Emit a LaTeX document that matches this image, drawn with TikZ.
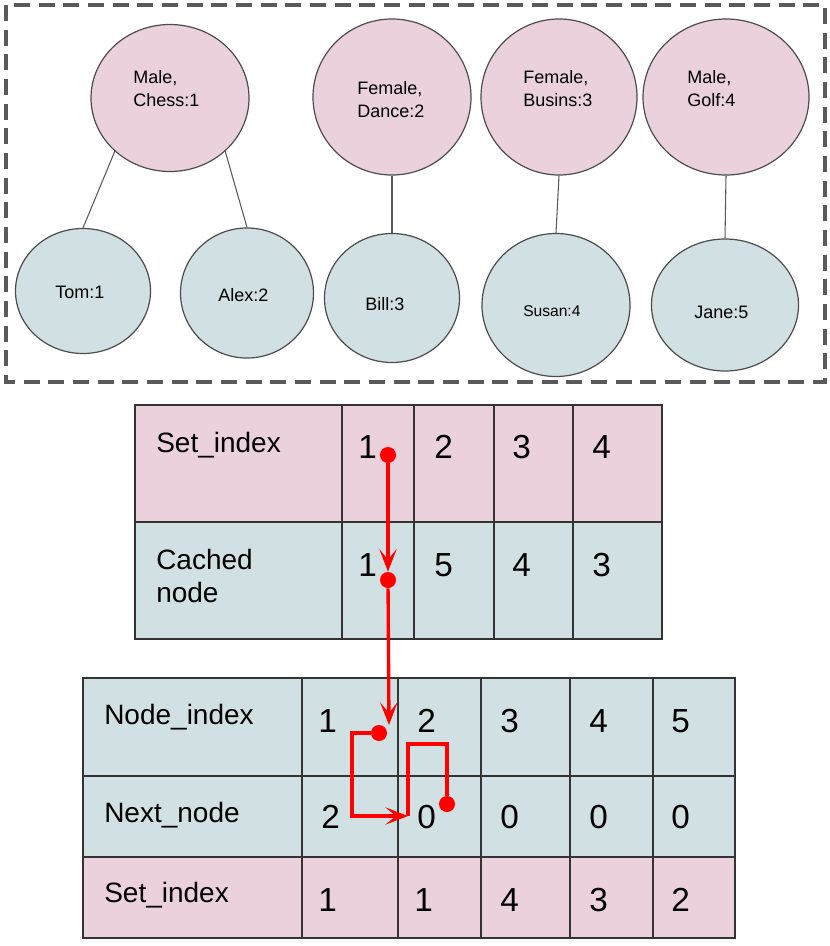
\documentclass[tikz,border=0pt]{standalone}
\usepackage{fontspec}
\setmainfont{Liberation Sans}
\usepackage{tikz}
\usetikzlibrary{arrows.meta,shapes.geometric}

\definecolor{setpink}{RGB}{234,209,220}
\definecolor{nodeblue}{RGB}{208,224,227}
\definecolor{framegray}{RGB}{90,90,90}

\begin{document}
\begin{tikzpicture}[x=0.75pt,y=0.75pt,yscale=-1,xscale=1,
    setell/.style={ellipse,draw=black!70,line width=0.9pt,fill=setpink,inner sep=0pt},
    nodeell/.style={ellipse,draw=black!70,line width=0.9pt,fill=nodeblue,inner sep=0pt},
    link/.style={draw=black!65,line width=0.8pt},
    toptxt/.style={anchor=base west,inner sep=0pt,align=left,font=\fontsize{13.5}{17}\selectfont},
    rowtxt/.style={anchor=base west,inner sep=0pt,align=left,font=\fontsize{21}{24.75}\selectfont},
    numtxt/.style={anchor=base west,inner sep=0pt,font=\fontsize{25}{30}\selectfont},
    cellline/.style={draw=black!80,line width=1.1pt},
    redline/.style={draw=red,line width=2.5pt},
    redtip/.style={-{Stealth[length=17pt,width=13pt,inset=8pt]}},
    dot/.style={circle,fill=red,inner sep=0pt,minimum size=12pt}]
    \useasboundingbox (0,0) rectangle (830,946);

    %Shape: Rectangle (dashed frame)
    \draw [draw=framegray,line width=2.6pt,dash pattern=on 12pt off 6.5pt] (6,5) rectangle (825,382);

    %Shape: Ellipse
    \draw (170,98) node [setell,minimum width=118.5pt,minimum height=110.25pt] (chess) {};
    %Shape: Ellipse
    \draw (392,97) node [setell,minimum width=118.5pt,minimum height=117pt] (dance) {};
    %Shape: Ellipse
    \draw (559,97) node [setell,minimum width=117pt,minimum height=117pt] (busins) {};
    %Shape: Ellipse
    \draw (726,97) node [setell,minimum width=124.5pt,minimum height=117pt] (golf) {};
    %Shape: Ellipse
    \draw (83,291) node [nodeell,minimum width=101.25pt,minimum height=93.75pt] (tom) {};
    %Shape: Ellipse
    \draw (247,293) node [nodeell,minimum width=99.75pt,minimum height=97.5pt] (alex) {};
    %Shape: Ellipse
    \draw (392,298) node [nodeell,minimum width=101.25pt,minimum height=96.75pt] (bill) {};
    %Shape: Ellipse
    \draw (556,305) node [nodeell,minimum width=111pt,minimum height=107.25pt] (susan) {};
    %Shape: Ellipse
    \draw (725,305) node [nodeell,minimum width=110.25pt,minimum height=99pt] (jane) {};

    %Straight Lines
    \draw [link] (chess.224) -- (tom.north);
    \draw [link] (chess.316) -- (alex.north);
    \draw [link] (dance.south) -- (bill.north);
    \draw [link] (busins.south) -- (susan.north);
    \draw [link] (golf.south) -- (jane.north);

    % Text Node
    \draw (133,106) node [toptxt] (chesst) {Male,\\Chess:1};
    % Text Node
    \draw (357,117) node [toptxt] (dancet) {Female,\\Dance:2};
    % Text Node
    \draw (523,106) node [toptxt] (businst) {Female,\\Busins:3};
    % Text Node
    \draw (687,106) node [toptxt] (golft) {Male,\\Golf:4};
    % Text Node
    \draw (55,298) node [toptxt] (tomt) {Tom:1};
    % Text Node
    \draw (218,301) node [toptxt] (alext) {Alex:2};
    % Text Node
    \draw (365,310) node [toptxt] (billt) {Bill:3};
    % Text Node
    \draw (523,316) node [toptxt,font=\fontsize{11.7}{14}\selectfont] (susant) {Susan:4};
    % Text Node
    \draw (694,318) node [toptxt] (janet) {Jane:5};

    %Shape: Rectangle (set table)
    \draw [cellline,fill=setpink] (135,405) rectangle (662,522);
    \draw [cellline,fill=nodeblue] (135,522) rectangle (662,639);
    \draw [cellline] (342,405) -- (342,639) (414,405) -- (414,639) (494,405) -- (494,639) (573,405) -- (573,639);

    %Shape: Rectangle (node table)
    \draw [cellline,fill=nodeblue] (83,678) rectangle (735,857);
    \draw [cellline,fill=setpink] (83,857) rectangle (735,938);
    \draw [cellline] (83,776) -- (735,776);
    \draw [cellline] (302,678) -- (302,938) (398,678) -- (398,938) (481,678) -- (481,938) (570,678) -- (570,938) (653,678) -- (653,938);

    % Text Node
    \draw (156,452) node [rowtxt] (seth) {Set\_index};
    % Text Node
    \draw (156,602) node [rowtxt] (cacheh) {Cached\\node};
    % Text Node
    \draw (358,458) node [numtxt] (s1) {1};
    % Text Node
    \draw (434,458) node [numtxt] (s2) {2};
    % Text Node
    \draw (512,458) node [numtxt] (s3) {3};
    % Text Node
    \draw (592,458) node [numtxt] (s4) {4};
    % Text Node
    \draw (358,576) node [numtxt] (c1) {1};
    % Text Node
    \draw (434,576) node [numtxt] (c2) {5};
    % Text Node
    \draw (512,576) node [numtxt] (c3) {4};
    % Text Node
    \draw (592,576) node [numtxt] (c4) {3};

    % Text Node
    \draw (104,724) node [rowtxt] (nodeh) {Node\_index};
    % Text Node
    \draw (104,822) node [rowtxt] (nexth) {Next\_node};
    % Text Node
    \draw (104,902) node [rowtxt] (nseth) {Set\_index};
    % Text Node
    \draw (318,732) node [numtxt] (n1) {1};
    % Text Node
    \draw (417,732) node [numtxt] (n2) {2};
    % Text Node
    \draw (500,732) node [numtxt] (n3) {3};
    % Text Node
    \draw (589,732) node [numtxt] (n4) {4};
    % Text Node
    \draw (671,732) node [numtxt] (n5) {5};
    % Text Node
    \draw (321,828) node [numtxt] (x1) {2};
    % Text Node
    \draw (417,828) node [numtxt] (x2) {0};
    % Text Node
    \draw (500,828) node [numtxt] (x3) {0};
    % Text Node
    \draw (589,828) node [numtxt] (x4) {0};
    % Text Node
    \draw (671,828) node [numtxt] (x5) {0};
    % Text Node
    \draw (318,911) node [numtxt] (k1) {1};
    % Text Node
    \draw (414,911) node [numtxt] (k2) {1};
    % Text Node
    \draw (500,911) node [numtxt] (k3) {4};
    % Text Node
    \draw (589,911) node [numtxt] (k4) {3};
    % Text Node
    \draw (671,911) node [numtxt] (k5) {2};

    %Red pointers
    \node [dot] (p1) at (388,455) {};
    \node [dot] (p2) at (388,580) {};
    \node [dot] (p3) at (379,733) {};
    \node [dot] (p4) at (447,804) {};
    \coordinate (q1) at (389,725);
    \coordinate (q2) at (352,733);
    \coordinate (q3) at (408,816);
    \coordinate (q4) at (447,744);
    \draw [redline,redtip] (p1) -- (p2.north);
    \draw [redline,redtip] (p2) -- (q1);
    \draw [redline,redtip] (p3) -- (q2) |- (q3);
    \draw [redline] (p4) -- (q4) -| (q3);

\end{tikzpicture}
\end{document}
